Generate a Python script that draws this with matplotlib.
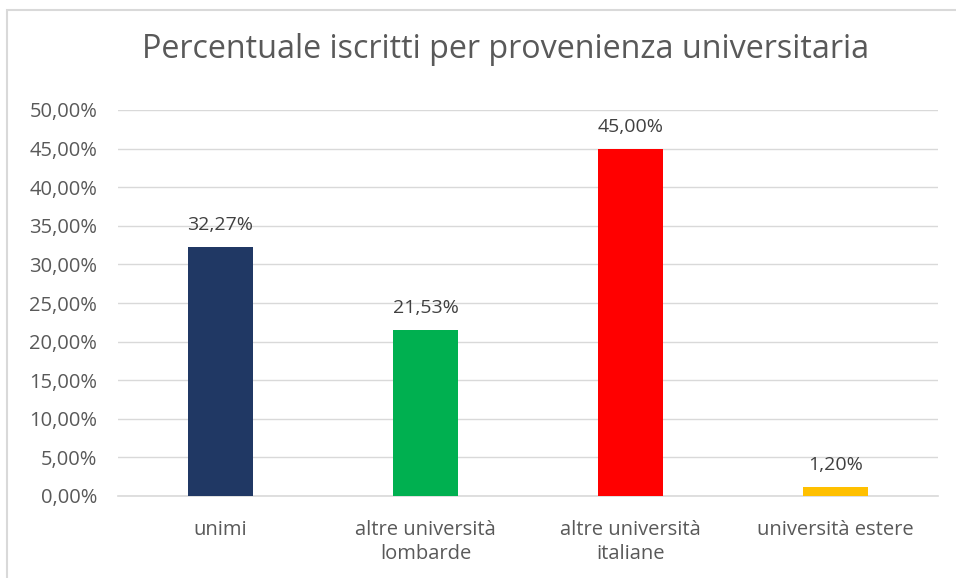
import matplotlib
matplotlib.use("Agg")
import matplotlib.pyplot as plt
from matplotlib.patches import Rectangle

categories = ["unimi", "altre università\nlombarde", "altre università\nitaliane", "università estere"]
values = [32.27, 21.53, 45.00, 1.20]
colors = ["#203864", "#00B050", "#FF0000", "#FFC000"]
yticks = [0, 5, 10, 15, 20, 25, 30, 35, 40, 45, 50]
title = "Percentuale iscritti per provenienza universitaria"

plt.rcParams['font.family'] = ['Open Sans', 'DejaVu Sans']

W, H = 956, 578
fig = plt.figure(figsize=(W/100, H/100), dpi=100)
fig.patch.set_facecolor("white")

# outer chart border (partially cropped in reference)
fig.patches.append(Rectangle((7/W, -0.1), 1.2, 1 - 10/H + 0.1, transform=fig.transFigure,
                             fill=False, edgecolor="#D9D9D9", linewidth=1.5))

ax = fig.add_axes([118/W, 1 - 496/H, (938-118)/W, (496-110)/H])
x = list(range(len(categories)))
bars = ax.bar(x, values, width=0.32, color=colors, zorder=3)
ax.set_xlim(-0.5, len(categories) - 0.5)
ax.set_ylim(0, 50)
ax.set_yticks(yticks)
ax.set_yticklabels([f"{v:.2f}".replace(".", ",") + "%" for v in yticks],
                   fontsize=14.5, color="#595959")
ax.set_xticks(x)
ax.set_xticklabels(categories, fontsize=14.5, color="#595959", linespacing=1.3)
ax.tick_params(axis='both', length=0)
ax.tick_params(axis='y', pad=15)
ax.tick_params(axis='x', pad=17)
ax.grid(axis='y', color="#D9D9D9", linewidth=1, zorder=0)
for s in ["top", "right", "left"]:
    ax.spines[s].set_visible(False)
ax.spines["bottom"].set_color("#D9D9D9")
ax.spines["bottom"].set_linewidth(1.2)
ax.set_facecolor("none")

for xi, v in zip(x, values):
    ax.annotate(f"{v:.2f}".replace(".", ",") + "%", (xi, v), xytext=(0, 9),
                textcoords="offset points", ha="center", va="bottom",
                fontsize=14, color="#404040")

fig.text(0.5 + 28/W, 1 - 50/H, title, ha="center", va="center", fontsize=23.2, color="#595959")

fig.savefig("out.png", dpi=100, facecolor="white")
